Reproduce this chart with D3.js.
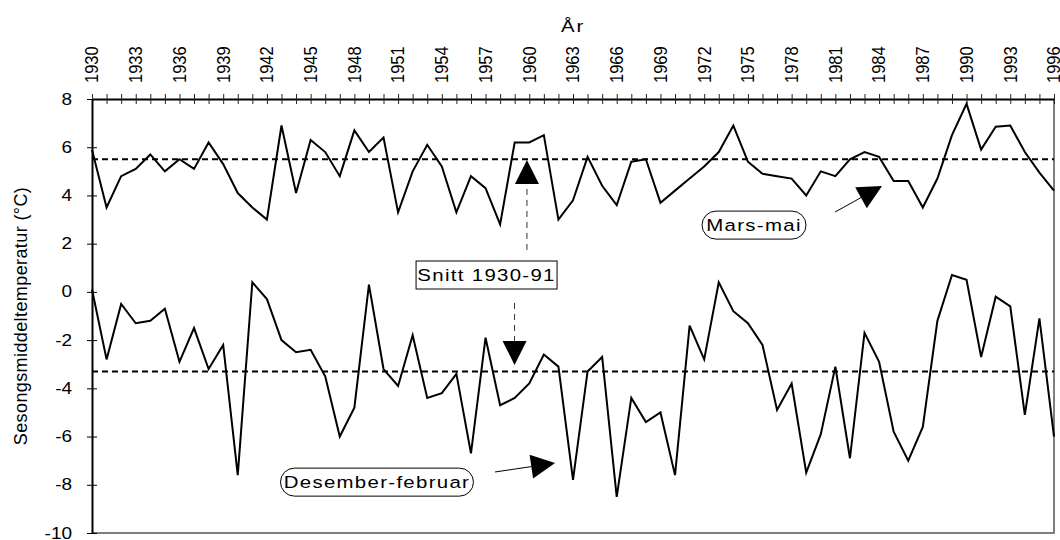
<!DOCTYPE html>
<html>
<head>
<meta charset="utf-8">
<script src="https://cdn.jsdelivr.net/npm/d3@7"></script>
<style>
  html, body { margin: 0; padding: 0; background: #fff; }
  svg { display: block; font-family: "Liberation Sans", Arial, sans-serif; }
</style>
</head>
<body>
<svg id="chart" width="1060" height="540"></svg>
<script>
// year categories 1930..1996
const years = d3.range(1930, 1997);
const labelYears = d3.range(1930, 1997, 3);
const yTicks = [8, 6, 4, 2, 0, -2, -4, -6, -8, -10];

// Mars-mai (spring) mean temperature
const spring = [
  5.9, 3.5, 4.8, 5.1, 5.7, 5.0, 5.5, 5.1, 6.2, 5.3,
  4.1, 3.5, 3.0, 6.9, 4.1, 6.3, 5.8, 4.8, 6.7, 5.8,
  6.4, 3.3, 5.0, 6.1, 5.2, 3.3, 4.8, 4.3, 2.8, 6.2,
  6.2, 6.5, 3.0, 3.8, 5.6, 4.4, 3.6, 5.4, 5.5, 3.7,
  4.2, 4.7, 5.2, 5.8, 6.9, 5.4, 4.9, 4.8, 4.7, 4.0,
  5.0, 4.8, 5.5, 5.8, 5.6, 4.6, 4.6, 3.5, 4.7, 6.5,
  7.8, 5.9, 6.85, 6.9, 5.8, 4.95, 4.2
];

// Desember-februar (winter) mean temperature
const winter = [
  0.1, -2.8, -0.5, -1.3, -1.2, -0.7, -2.9, -1.5, -3.2, -2.2,
  -7.6, 0.4, -0.3, -2.0, -2.5, -2.4, -3.5, -6.0, -4.8, 0.3,
  -3.2, -3.9, -1.8, -4.4, -4.2, -3.4, -6.7, -1.9, -4.7, -4.4,
  -3.8, -2.6, -3.1, -7.8, -3.3, -2.7, -8.5, -4.4, -5.4, -5.0,
  -7.6, -1.4, -2.8, 0.4, -0.8, -1.3, -2.2, -4.9, -3.8, -7.5,
  -5.9, -3.1, -6.9, -1.7, -2.9, -5.8, -7.0, -5.6, -1.2, 0.7,
  0.5, -2.7, -0.2, -0.6, -5.1, -1.1, -6.0
];

// 1930-91 averages
const means = [5.5, -3.3];

const svg = d3.select("#chart");
const x = d3.scaleLinear().domain([1930, 1996]).range([92, 1054]);
const y = d3.scaleLinear().domain([-10, 8]).range([533, 99]);

// plot frame (right + bottom)
svg.append("path")
  .attr("d", `M${x(1930)},${y(-10)}H${x(1996)}V${y(8)}`)
  .attr("fill", "none")
  .attr("stroke", "#555")
  .attr("stroke-width", 1.5);

// mean lines
svg.selectAll("line.mean")
  .data(means)
  .join("line")
  .attr("class", "mean")
  .attr("x1", x(1930))
  .attr("x2", x(1996))
  .attr("y1", (d) => y(d))
  .attr("y2", (d) => y(d))
  .attr("stroke", "#000")
  .attr("stroke-width", 2)
  .attr("stroke-dasharray", "6 4");

// top axis
const xAxis = svg.append("g")
  .attr("transform", `translate(0,${y(8)})`)
  .call(d3.axisTop(x).tickValues(years).tickSize(5).tickSizeOuter(0).tickFormat(""));
xAxis.select(".domain").attr("stroke-width", 2);
xAxis.selectAll(".tick line").attr("y1", 5).attr("stroke", "#222");

svg.selectAll("text.xlab")
  .data(labelYears)
  .join("text")
  .attr("class", "xlab")
  .attr("transform", (d) => `translate(${x(d)},83) scale(1.15,1) rotate(-90)`)
  .attr("dominant-baseline", "central")
  .attr("font-size", 16.5)
  .attr("fill", "#000")
  .text((d) => d);

svg.append("text")
  .attr("transform", `translate(573,32) scale(1.2,1)`)
  .attr("text-anchor", "middle")
  .attr("font-size", 17)
  .attr("letter-spacing", 1.5)
  .text("År");

// left axis
const yAxis = svg.append("g")
  .attr("transform", `translate(${x(1930)},0)`)
  .call(d3.axisLeft(y).tickValues(yTicks).tickSize(5).tickSizeOuter(0).tickFormat(""));
yAxis.select(".domain").attr("stroke-width", 2);
yAxis.selectAll(".tick line").attr("x1", 5);

svg.selectAll("text.ylab")
  .data(yTicks)
  .join("text")
  .attr("class", "ylab")
  .attr("transform", (d) => `translate(72,${y(d)}) scale(1.15,1)`)
  .attr("text-anchor", "end")
  .attr("dominant-baseline", "central")
  .attr("font-size", 16.5)
  .text((d) => d);

svg.append("text")
  .attr("transform", `translate(21,${(y(8) + y(-10)) / 2}) rotate(-90)`)
  .attr("text-anchor", "middle")
  .attr("dominant-baseline", "central")
  .attr("font-size", 18)
  .attr("letter-spacing", 0.4)
  .text("Sesongsmiddeltemperatur (°C)");

// series
const line = d3.line().x((d, i) => x(years[i])).y((d) => y(d));
[spring, winter].forEach((s) => {
  svg.append("path")
    .datum(s)
    .attr("fill", "none")
    .attr("stroke", "#000")
    .attr("stroke-width", 2)
    .attr("stroke-linejoin", "miter")
    .attr("d", line);
});

// annotations (data coords)
function label(cx, cy, w, txt, rx) {
  const px = x(cx), py = y(cy);
  svg.append("rect")
    .attr("x", px - w / 2).attr("y", py - 14)
    .attr("width", w).attr("height", 28)
    .attr("rx", rx).attr("ry", rx)
    .attr("fill", "#fff").attr("stroke", "#000").attr("stroke-width", 1);
  svg.append("text")
    .attr("transform", `translate(${px},${py + 6}) scale(1.2,1)`)
    .attr("text-anchor", "middle")
    .attr("font-size", 17)
    .attr("letter-spacing", 1.1)
    .text(txt);
}

function head(x0, y0, x1, y1, len, half) {
  // filled triangle with tip at (x1,y1), pointing away from (x0,y0)
  const dx = x1 - x0, dy = y1 - y0, L = Math.hypot(dx, dy);
  const ux = dx / L, uy = dy / L;
  const bx = x1 - ux * len, by = y1 - uy * len;
  svg.append("path")
    .attr("d", `M${x1},${y1}L${bx - uy * half},${by + ux * half}L${bx + uy * half},${by - ux * half}Z`)
    .attr("fill", "#000");
  return [bx, by];
}

function arrow(a, b, dashed) {
  const [x0, y0, x1, y1] = [x(a[0]), y(a[1]), x(b[0]), y(b[1])];
  const [bx, by] = head(x0, y0, x1, y1, 24, 12);
  svg.append("line")
    .attr("x1", x0).attr("y1", y0).attr("x2", bx).attr("y2", by)
    .attr("stroke", dashed ? "#333" : "#000")
    .attr("stroke-width", 1)
    .attr("stroke-dasharray", dashed ? "6 5" : null);
}

arrow([1959.84, 1.74], [1959.84, 5.47], true);
arrow([1958.99, -0.46], [1958.99, -3.03], true);
label(1957.07, 0.70, 141, "Snitt 1930-91", 0);

arrow([1980.97, 3.31], [1984.2, 4.39], false);
label(1975.42, 2.77, 104, "Mars-mai", 14);

arrow([1957.65, -7.47], [1961.77, -7.10], false);
label(1949.55, -7.89, 193, "Desember-februar", 14);
</script>
</body>
</html>
